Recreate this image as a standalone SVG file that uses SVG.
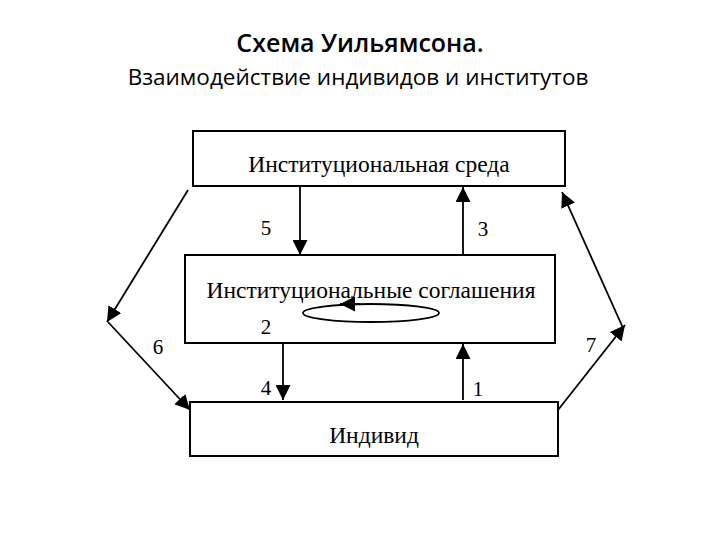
<svg xmlns="http://www.w3.org/2000/svg" width="720" height="540" viewBox="0 0 720 540">
<style>
.box{fill:#fff;stroke:#000;stroke-width:2}
.t{font-family:"Liberation Serif",serif;font-size:23.5px;text-anchor:middle;fill:#000}
.n{font-family:"Liberation Serif",serif;font-size:21px;text-anchor:middle;fill:#000}
.h{font-family:"Open Sans","Liberation Sans",sans-serif;text-anchor:middle;fill:#000}
.c{stroke:#000;stroke-width:1.8;fill:none}
</style>
<defs>
<marker id="b" viewBox="0 0 10 10" refX="10" refY="5" markerWidth="15" markerHeight="15" markerUnits="userSpaceOnUse" orient="auto"><path d="M0,0L10,5L0,10z" fill="#000"/></marker>
</defs>
<text class="h" x="360" y="52" font-size="25" font-weight="600">Схема Уильямсона.</text>
<text class="h" x="358" y="85" font-size="22.5">Взаимодействие индивидов и институтов</text>
<g id="env"><rect class="box" x="193" y="131" width="372" height="55"/><text class="t" x="379" y="172">Институциональная среда</text></g>
<g id="agr"><rect class="box" x="185" y="255" width="370" height="88"/><text class="t" x="371" y="298">Институциональные соглашения</text></g>
<g id="ind"><rect class="box" x="190" y="402" width="368" height="54"/><text class="t" x="374" y="443">Индивид</text></g>
<g id="connectors">
<line class="c" x1="300" y1="186" x2="300" y2="255" marker-end="url(#b)"/>
<line class="c" x1="463" y1="255" x2="463" y2="187" marker-end="url(#b)"/>
<line class="c" x1="283" y1="343" x2="283" y2="400" marker-end="url(#b)"/>
<line class="c" x1="463" y1="400" x2="463" y2="344" marker-end="url(#b)"/>
<ellipse class="c" cx="371" cy="313" rx="68" ry="9"/>
<line class="c" x1="360" y1="304" x2="340" y2="304" marker-end="url(#b)"/>
<line class="c" x1="188" y1="190" x2="107" y2="322" marker-end="url(#b)"/>
<line class="c" x1="108" y1="322" x2="190" y2="410" marker-end="url(#b)"/>
<line class="c" x1="558" y1="410" x2="625" y2="325" marker-end="url(#b)"/>
<line class="c" x1="623" y1="328" x2="562" y2="192" marker-end="url(#b)"/>
</g>
<text class="n" x="266" y="235">5</text>
<text class="n" x="483" y="236">3</text>
<text class="n" x="266" y="334">2</text>
<text class="n" x="158" y="354">6</text>
<text class="n" x="591" y="352">7</text>
<text class="n" x="266" y="395">4</text>
<text class="n" x="478" y="396">1</text>
</svg>
